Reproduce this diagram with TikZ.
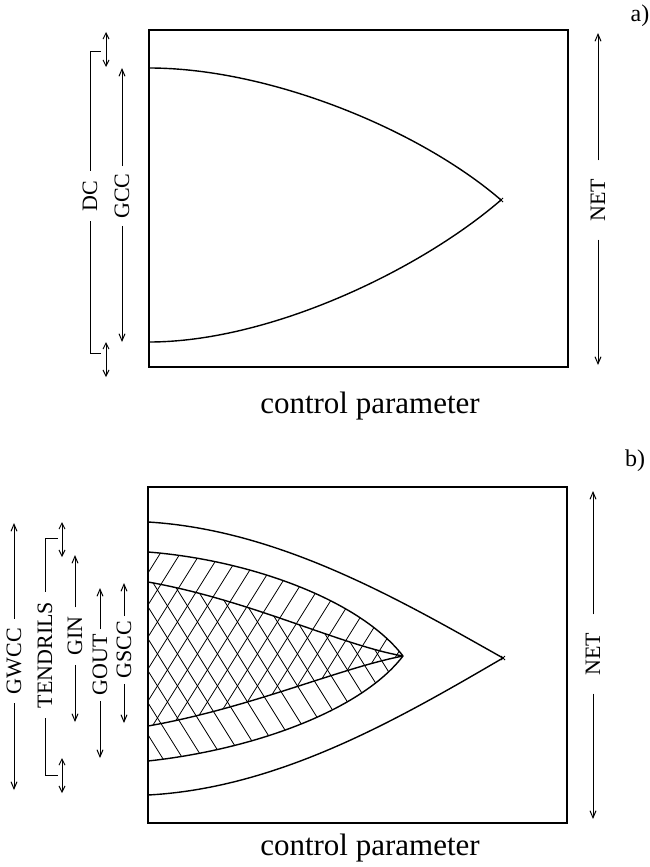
\documentclass[tikz,border=0pt]{standalone}
\usepackage{fontspec}
\setmainfont{Liberation Serif}
\usetikzlibrary{arrows.meta}
\newcommand{\labfont}{\fontsize{22}{26}\selectfont}
\newcommand{\tagfont}{\fontsize{24}{28}\selectfont}
\newcommand{\bigfont}{\fontsize{31}{35}\selectfont}
\tikzset{
  lab/.style={rotate=90, font=\labfont, inner xsep=8pt, inner ysep=1pt},
  arr/.style={line width=1pt, -{Straight Barb[length=7pt,width=6pt]}},
  dbl/.style={line width=1pt, {Straight Barb[length=6pt,width=6pt]}-{Straight Barb[length=6pt,width=6pt]}},
  brk/.style={line width=1pt},
  crv/.style={line width=1.4pt},
  hatch/.style={line width=0.8pt},
  frame/.style={line width=1.1pt},
  axislabel/.style={font=\bigfont, anchor=base, inner sep=0pt},
  tag/.style={font=\tagfont, inner sep=0pt}
}
\begin{document}
\begin{tikzpicture}[x=1pt,y=-1pt]
\useasboundingbox (0,0) rectangle (650,867);
% ---------------- panel a ----------------
\draw[frame] (149,30) rectangle (568,367);
\draw[crv] (149,68) .. controls (270,68) and (420,130) .. (501,200);
\draw[crv] (149,342) .. controls (270,342) and (420,270) .. (501,200);
\draw[line width=1pt] (499,198) -- (503,202) (499,202) -- (503,198);
\node[tag] (ta) at (640,16) {a)};
\node[axislabel] (cpa) at (370,413) {control parameter};
% DC
\node[lab, inner xsep=10pt] (dc) at (90,196) {DC};
\draw[brk] (dc.east) -- (90,52) -- (101,52);
\draw[brk] (dc.west) -- (90,353) -- (101,353);
\coordinate (dct1) at (106,32); \coordinate (dct2) at (106,67);
\coordinate (dcb1) at (106,342); \coordinate (dcb2) at (106,377);
\draw[dbl] (dct1) -- (dct2);
\draw[dbl] (dcb1) -- (dcb2);
% GCC
\node[lab, inner xsep=7pt] (gcc) at (122,196) {GCC};
\coordinate (gcct) at (122,68); \coordinate (gccb) at (122,342);
\draw[arr] (gcc.east) -- (gcct);
\draw[arr] (gcc.west) -- (gccb);
% NET a
\node[lab, inner xsep=18pt] (neta) at (598,200) {NET};
\coordinate (netat) at (598,33); \coordinate (netab) at (598,365);
\draw[arr] (neta.east) -- (netat);
\draw[arr] (neta.west) -- (netab);
% ---------------- panel b ----------------
\draw[frame] (148,487) rectangle (567,823);
% hatching GIN region (/)
\begin{scope}
\clip (148,552) .. controls (250,560) and (360,600) .. (403,656)
      .. controls (340,668) and (250,708) .. (148,726) -- cycle;
\foreach \k in {-16,...,14} {
  \draw[hatch] (178+20*\k,557) ++(-150,240) -- ++(300,-480);
}
\end{scope}
% hatching GOUT region (\)
\begin{scope}
\clip (148,582) .. controls (250,600) and (340,645) .. (403,656)
      .. controls (360,712) and (250,750) .. (148,761) -- cycle;
\foreach \k in {-16,...,14} {
  \draw[hatch] (150+20*\k,738) ++(-150,-240) -- ++(300,480);
}
\end{scope}
% curves
\draw[crv] (148,522) .. controls (280,530) and (400,600) .. (503,658);
\draw[crv] (148,795) .. controls (280,788) and (400,718) .. (503,658);
\draw[crv] (148,552) .. controls (250,560) and (360,600) .. (403,656);
\draw[crv] (148,761) .. controls (250,750) and (360,712) .. (403,656);
\draw[crv] (148,582) .. controls (250,600) and (340,645) .. (403,656);
\draw[crv] (148,726) .. controls (250,708) and (340,668) .. (403,656);
\draw[line width=1pt] (501,656) -- (505,660) (501,660) -- (505,656);
\node[tag] (tb) at (635,461) {b)};
\node[axislabel] (cpb) at (370,855) {control parameter};
% GWCC
\node[lab, inner xsep=9pt] (gwcc) at (14,661) {GWCC};
\coordinate (gwcct) at (14,523); \coordinate (gwccb) at (14,790);
\draw[arr] (gwcc.east) -- (gwcct);
\draw[arr] (gwcc.west) -- (gwccb);
% TENDRILS
\node[lab, inner xsep=10pt] (ten) at (45,655) {TENDRILS};
\draw[brk] (ten.east) -- (45,538) -- (58,538);
\draw[brk] (ten.west) -- (45,775) -- (58,775);
\coordinate (tt1) at (62,522); \coordinate (tt2) at (62,557);
\coordinate (tb1) at (62,758); \coordinate (tb2) at (62,793);
\draw[dbl] (tt1) -- (tt2);
\draw[dbl] (tb1) -- (tb2);
% GIN
\node[lab, inner xsep=9pt] (gin) at (75,636) {GIN};
\coordinate (gint) at (75,555); \coordinate (ginb) at (75,722);
\draw[arr] (gin.east) -- (gint);
\draw[arr] (gin.west) -- (ginb);
% GOUT
\node[lab, inner xsep=5pt] (gout) at (100,665) {GOUT};
\coordinate (goutt) at (100,588); \coordinate (goutb) at (100,758);
\draw[arr] (gout.east) -- (goutt);
\draw[arr] (gout.west) -- (goutb);
% GSCC
\node[lab, inner xsep=5pt] (gscc) at (124,650) {GSCC};
\coordinate (gscct) at (124,583); \coordinate (gsccb) at (124,723);
\draw[arr] (gscc.east) -- (gscct);
\draw[arr] (gscc.west) -- (gsccb);
% NET b
\node[lab, inner xsep=18pt] (netb) at (593,654) {NET};
\coordinate (netbt) at (593,491); \coordinate (netbb) at (593,819);
\draw[arr] (netb.east) -- (netbt);
\draw[arr] (netb.west) -- (netbb);
\end{tikzpicture}
\end{document}
